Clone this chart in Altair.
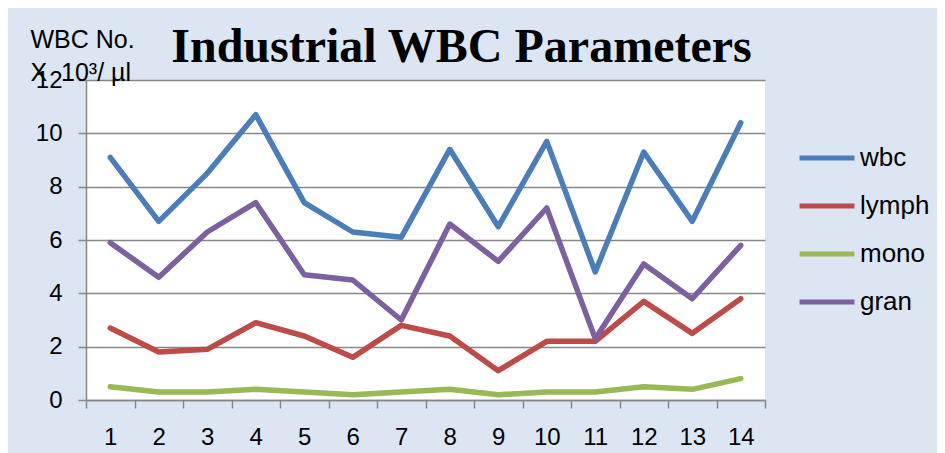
import altair as alt
import pandas as pd

samples = list(range(1, 15))
series_names = ["wbc", "lymph", "mono", "gran"]
series_colors = ["#4A7EBB", "#BE4B48", "#98B954", "#7D60A0"]
wbc = [9.1, 6.7, 8.5, 10.7, 7.4, 6.3, 6.1, 9.4, 6.5, 9.7, 4.8, 9.3, 6.7, 10.4]
lymph = [2.7, 1.8, 1.9, 2.9, 2.4, 1.6, 2.8, 2.4, 1.1, 2.2, 2.2, 3.7, 2.5, 3.8]
mono = [0.5, 0.3, 0.3, 0.4, 0.3, 0.2, 0.3, 0.4, 0.2, 0.3, 0.3, 0.5, 0.4, 0.8]
gran = [5.9, 4.6, 6.3, 7.4, 4.7, 4.5, 3.0, 6.6, 5.2, 7.2, 2.3, 5.1, 3.8, 5.8]
y_ticks = [0, 2, 4, 6, 8, 10, 12]

values = {"wbc": wbc, "lymph": lymph, "mono": mono, "gran": gran}
rows = []
for name in series_names:
    for s, v in zip(samples, values[name]):
        rows.append({"sample": s, "value": v, "series": name})
df = pd.DataFrame(rows)

SANS = "Liberation Sans, Arial, sans-serif"
GRAY = "#878787"

chart = (
    alt.Chart(df)
    .mark_line(strokeWidth=5.5, strokeCap="round", strokeJoin="round")
    .encode(
        x=alt.X(
            "sample:O",
            scale=alt.Scale(type="band", paddingInner=0, paddingOuter=0),
            axis=alt.Axis(
                title=None,
                labelAngle=0,
                tickBand="extent",
                tickSize=8,
                tickWidth=1.5,
                tickColor=GRAY,
                domainColor=GRAY,
                domainWidth=1.5,
                labelFont=SANS,
                labelFontSize=24,
                labelColor="#000000",
                labelBaseline="alphabetic",
                labelPadding=36,
                grid=False,
            ),
        ),
        y=alt.Y(
            "value:Q",
            scale=alt.Scale(domain=[0, 12], nice=False),
            axis=alt.Axis(
                values=y_ticks,
                title=["WBC No.", "X\u00a0\u00a010³/ µl"],
                titleAngle=0,
                titleAlign="left",
                titleBaseline="alphabetic",
                titleX=-56,
                titleY=-33,
                titleFont=SANS,
                titleFontSize=25,
                titleFontWeight="normal",
                titleLineHeight=33,
                titleColor="#000000",
                labelFont=SANS,
                labelFontSize=24,
                labelColor="#000000",
                labelPadding=16,
                tickSize=8,
                tickWidth=1.5,
                tickColor=GRAY,
                domainColor=GRAY,
                domainWidth=1.5,
                gridColor=GRAY,
                gridWidth=1.6,
            ),
        ),
        color=alt.Color(
            "series:N",
            sort=series_names,
            scale=alt.Scale(domain=series_names, range=series_colors),
            legend=alt.Legend(
                title=None,
                orient="none",
                legendX=716,
                legendY=53,
                padding=0,
                symbolType="M-1.22,0H1.22",
                symbolSize=2025,
                symbolStrokeWidth=5,
                labelOffset=8,
                rowPadding=10,
                labelFont=SANS,
                labelFontSize=26,
                labelColor="#000000",
            ),
        ),
    )
    .properties(
        width=679,
        height=320,
        background="#DCE6F2",
        padding={"left": 78, "top": 72, "right": 172, "bottom": 53},
        autosize=alt.AutoSizeParams(type="none"),
        title=alt.TitleParams(
            "Industrial WBC Parameters",
            font="Liberation Serif, Times New Roman, serif",
            fontSize=48,
            fontWeight="bold",
            color="#000000",
            anchor="middle",
            dx=36,
            dy=101,
            baseline="alphabetic",
            offset=18,
        ),
    )
    .configure_view(fill="#FFFFFF", stroke=None)
)

chart.save("out.html", embed_options={"renderer": "svg", "actions": False})
